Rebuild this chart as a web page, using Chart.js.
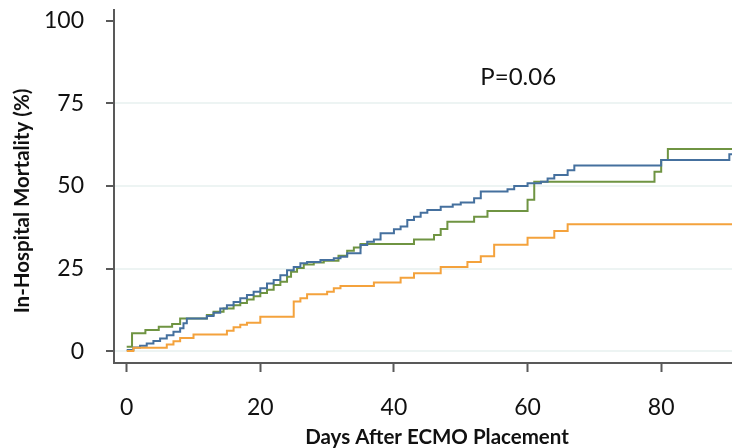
<!DOCTYPE html>
<html>
<head>
<meta charset="utf-8">
<script src="https://cdn.jsdelivr.net/npm/chart.js@4.4.1/dist/chart.umd.min.js"></script>
<style>
  html, body { margin: 0; padding: 0; background: #fff; }
  #wrap { width: 732px; height: 448px; }
</style>
</head>
<body>
<div id="wrap"><canvas id="kmChart"></canvas></div>
<script>
// Cumulative in-hospital mortality (%) by day
const blueDays = [0, 1, 2, 3, 4, 5, 6, 7, 8, 8.5, 9, 12, 13, 14, 15, 16, 17, 18, 19, 20,
  21, 22, 23, 24, 25, 26, 27, 29, 31, 32, 33, 35, 36, 37, 38, 40, 41, 42, 43, 44,
  45, 47, 48.8, 50, 52, 53, 57, 58, 60, 62, 63, 64, 66, 67, 80, 90.2, 90.6];
const blueMort = [0.3, 1.1, 1.6, 2.3, 3.1, 3.8, 4.8, 5.9, 6.9, 8.4, 9.9, 10.6, 11.6, 12.9, 13.9, 14.9, 16, 17, 18, 19,
  20.5, 21.5, 23, 24.5, 25.5, 26.6, 27, 27.6, 28.1, 28.6, 29.6, 32.1, 33.1, 33.8, 35.7, 36.9, 37.7, 39.7, 40.7, 41.9,
  42.7, 43.7, 44.4, 45, 46.3, 48.3, 49, 50, 50.8, 51.3, 52.3, 53.3, 54.8, 56.2, 57.9, 59.6, 59.6];

const greenDays = [0, 0.8, 2.8, 4.8, 6.8, 8, 12, 13, 14.5, 16, 17, 18, 19, 20, 21, 22, 23, 24, 24.6, 25.5,
  26.5, 28, 29.5, 31.7, 33, 34, 35, 43, 46, 47, 48, 52, 54, 60, 61, 79, 80, 81, 90.6];
const greenMort = [1.3, 5.4, 6.4, 7.4, 8.2, 9.9, 10.9, 11.9, 12.9, 13.9, 14.6, 15.6, 16.6, 17.6, 18.6, 20, 21, 22.5, 24, 25.2,
  26.2, 26.8, 27.4, 28.9, 30.4, 31.4, 32.4, 33.8, 35.2, 37, 39.2, 40.7, 42.4, 45.8, 51.3, 54.3, 57.9, 61.2, 61.2];

const orangeDays = [0, 1, 6, 7, 8, 10, 15, 16, 17, 18, 20, 25, 26, 27, 30, 31, 32, 37, 41, 43,
  47, 51, 53, 55, 60, 64, 66, 90.6];
const orangeMort = [0, 1, 2, 3, 4, 5, 6.2, 7.2, 8, 8.6, 10.4, 15, 16, 17.2, 18, 19, 19.7, 20.8, 22.2, 23.6,
  25.5, 27, 28.7, 32.2, 34.3, 36.4, 38.4, 38.4];

const xTicks = [0, 20, 40, 60, 80];
const yTicks = [0, 25, 50, 75, 100];
const xTitle = 'Days After ECMO Placement';
const yTitle = 'In-Hospital Mortality (%)';
const pText = 'P=0.06';

const toPoints = (xs, ys) => xs.map((x, i) => ({ x: x, y: ys[i] }));

Chart.defaults.font.family = 'Lato, "Liberation Sans", sans-serif';
Chart.defaults.color = '#111';

// axis titles and the p-value are drawn on top after the chart
const extraText = {
  id: 'extraText',
  afterDraw(chart) {
    const c = chart.ctx;
    const { x, y } = chart.scales;
    c.save();
    c.fillStyle = '#111';
    c.textAlign = 'center';
    c.textBaseline = 'middle';
    c.font = '24px Lato';
    c.fillText(pText, x.getPixelForValue(58.6), y.getPixelForValue(83));
    c.font = 'bold 20.5px Lato';
    c.fillText(xTitle, 437, 437);
    c.translate(22, 201);
    c.rotate(-Math.PI / 2);
    c.fillText(yTitle, 0, 0);
    c.restore();
  }
};

const axisGrey = '#595959';
const noPad = s => { s.paddingTop = 0; s.paddingBottom = 0; s.paddingLeft = 0; s.paddingRight = 0; };

new Chart(document.getElementById('kmChart'), {
  type: 'line',
  data: {
    datasets: [
      { data: toPoints(orangeDays, orangeMort), borderColor: '#f4a23c' },
      { data: toPoints(blueDays, blueMort), borderColor: '#45709e' },
      { data: toPoints(greenDays, greenMort), borderColor: '#6f9442' }
    ]
  },
  options: {
    responsive: true,
    maintainAspectRatio: false,
    animation: false,
    layout: { padding: { top: 10, left: 0, right: 0, bottom: 0 } },
    plugins: { legend: { display: false }, tooltip: { enabled: false } },
    elements: {
      point: { radius: 0 },
      line: { borderWidth: 2, stepped: 'before', fill: false }
    },
    scales: {
      x: {
        type: 'linear', min: -1.9, max: 90.6,
        afterBuildTicks: s => { s.ticks = xTicks.map(v => ({ value: v })); },
        afterFit: s => { s.height = 85; noPad(s); },
        border: { color: axisGrey, width: 2 },
        grid: { drawOnChartArea: false, tickLength: 9, tickColor: axisGrey, tickWidth: 2 },
        ticks: { padding: 22, font: { size: 23 }, maxRotation: 0 }
      },
      y: {
        type: 'linear', min: -3.6, max: 103.3,
        afterBuildTicks: s => { s.ticks = yTicks.map(v => ({ value: v })); },
        afterFit: s => { s.width = 114; noPad(s); },
        border: { color: axisGrey, width: 2 },
        grid: {
          color: ctx => (ctx.tick && ctx.tick.value < 100) ? '#edf4f3' : 'rgba(0,0,0,0)',
          lineWidth: 2, tickLength: 8, tickColor: axisGrey, tickWidth: 2
        },
        ticks: { padding: 22, font: { size: 23 } }
      }
    }
  },
  plugins: [extraText]
});
</script>
</body>
</html>
